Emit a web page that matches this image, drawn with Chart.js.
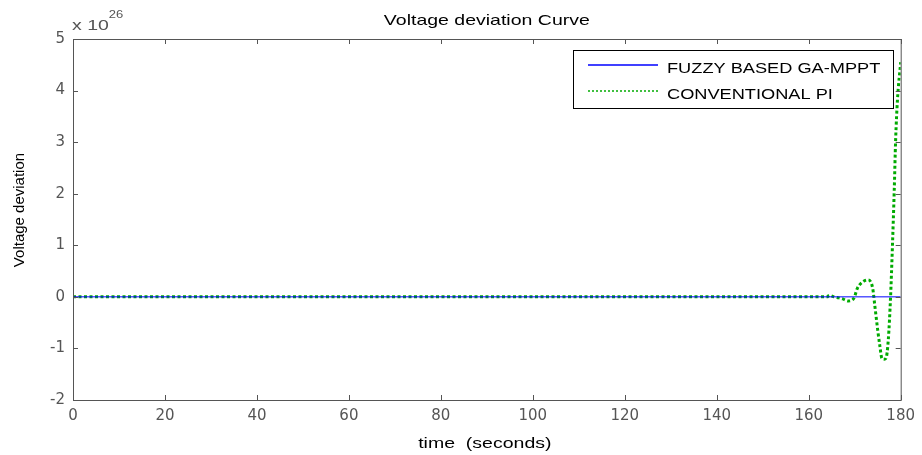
<!DOCTYPE html>
<html>
<head>
<meta charset="utf-8">
<script src="https://cdn.jsdelivr.net/npm/chart.js@4/dist/chart.umd.min.js"></script>
<style>
  html, body { margin: 0; padding: 0; background: #fff; }
  #wrap { width: 922px; height: 455px; }
</style>
</head>
<body>
<div id="wrap"><canvas id="myChart" width="922" height="455"></canvas></div>
<script>
// values are in units of 10^26 (see the exponent label above the y axis)
const fuzzyTime  = [0, 180];
const fuzzyValue = [0, 0];

const piTime  = [0, 164, 164.5, 165.5, 166.5, 167.4, 168.6, 169.8, 170.6, 171.9, 172.9, 173.9, 174.4,
                 175, 175.5, 175.9, 176.4, 176.8, 177.3, 177.8, 178.2, 178.6, 178.9, 179.3, 180];
const piValue = [0, 0, 0.03, 0, -0.02, -0.04, -0.08, -0.03, 0.17, 0.3, 0.33, 0.17, -0.19,
                 -0.64, -0.97, -1.19, -1.21, -1.19, -0.84, 0, 0.97, 2.07, 3.04, 3.82, 4.55];

const seriesNames = ['FUZZY BASED GA-MPPT', 'CONVENTIONAL PI'];
const seriesColors = ['rgb(0,0,255)', 'rgb(0,170,0)'];

const xTicks = [0, 20, 40, 60, 80, 100, 120, 140, 160, 180];
const yTicks = [-2, -1, 0, 1, 2, 3, 4, 5];
const yExponent = '26';

const titleText = 'Voltage deviation Curve';
const xTitle = 'time  (seconds)';
const yTitle = 'Voltage deviation';
const axisGray = '#555555';
const fontName = '"Liberation Sans", Arial, sans-serif';
const tickFont = '"DejaVu Sans", sans-serif';
const stretch = 1.3; // the original figure is stretched sideways

function toPoints(xs, ys) {
  return xs.map((x, i) => ({ x: x, y: ys[i] }));
}

function wideText(ctx, txt, x, y, size, align) {
  ctx.save();
  ctx.font = size + 'px ' + fontName;
  ctx.textAlign = 'left';
  const w = ctx.measureText(txt).width * stretch;
  let x0 = x;
  if (align === 'center') x0 = x - w / 2;
  ctx.translate(x0, y);
  ctx.scale(stretch, 1);
  ctx.fillText(txt, 0, 0);
  ctx.restore();
  return w;
}

// MATLAB style frame: box, inward ticks, titles, exponent and legend inside the plot
const matlabFrame = {
  id: 'matlabFrame',
  afterDraw(chart) {
    const ctx = chart.ctx;
    const a = chart.chartArea;
    const xs = chart.scales.x, ys = chart.scales.y;
    const tl = 5;
    ctx.save();
    ctx.strokeStyle = axisGray;
    ctx.lineWidth = 1;
    ctx.strokeRect(a.left + 0.5, a.top + 0.5, a.right - a.left, a.bottom - a.top);
    ctx.beginPath();
    xTicks.forEach(v => {
      const px = Math.round(xs.getPixelForValue(v)) + 0.5;
      ctx.moveTo(px, a.bottom); ctx.lineTo(px, a.bottom - tl);
      ctx.moveTo(px, a.top); ctx.lineTo(px, a.top + tl);
    });
    yTicks.forEach(v => {
      const py = Math.round(ys.getPixelForValue(v)) + 0.5;
      ctx.moveTo(a.left, py); ctx.lineTo(a.left + tl, py);
      ctx.moveTo(a.right, py); ctx.lineTo(a.right - tl, py);
    });
    ctx.stroke();

    ctx.textBaseline = 'alphabetic';
    // title and x axis title
    ctx.fillStyle = '#000';
    wideText(ctx, titleText, (a.left + a.right) / 2, 25, 15, 'center');
    wideText(ctx, xTitle, (a.left + a.right) / 2 - 2, 448, 15, 'center');

    // y axis title
    ctx.save();
    ctx.translate(24, 210);
    ctx.rotate(-Math.PI / 2);
    ctx.font = '15px ' + fontName;
    ctx.textAlign = 'center';
    ctx.fillText(yTitle, 0, 0);
    ctx.restore();

    // exponent
    ctx.fillStyle = axisGray;
    const w = wideText(ctx, 'x 10', a.left - 1, 30, 15, 'left');
    wideText(ctx, yExponent, a.left - 1 + w, 18, 10, 'left');

    // legend
    const lx = 573, ly = 50, lw = 320, lh = 58;
    ctx.fillStyle = '#fff';
    ctx.fillRect(lx, ly, lw, lh);
    ctx.strokeStyle = '#000';
    ctx.lineWidth = 1;
    ctx.strokeRect(lx + 0.5, ly + 0.5, lw, lh);
    seriesNames.forEach((name, i) => {
      const yy = ly + 15 + i * 26;
      ctx.beginPath();
      ctx.strokeStyle = seriesColors[i];
      ctx.lineWidth = 1.5;
      ctx.setLineDash(i === 1 ? [2, 2] : []);
      ctx.moveTo(lx + 15, yy); ctx.lineTo(lx + 85, yy);
      ctx.stroke();
      ctx.setLineDash([]);
      ctx.fillStyle = '#000';
      wideText(ctx, name, lx + 94, yy + 8, 14, 'left');
    });
    ctx.restore();
  }
};

new Chart(document.getElementById('myChart'), {
  type: 'line',
  data: {
    datasets: [
      {
        label: seriesNames[0],
        data: toPoints(fuzzyTime, fuzzyValue),
        borderColor: seriesColors[0],
        borderWidth: 1,
        pointRadius: 0,
        order: 1
      },
      {
        label: seriesNames[1],
        data: toPoints(piTime, piValue),
        borderColor: seriesColors[1],
        borderWidth: 3,
        borderDash: [3, 2.5],
        pointRadius: 0,
        cubicInterpolationMode: 'monotone',
        order: 2
      }
    ]
  },
  options: {
    responsive: false,
    animation: false,
    layout: { padding: { left: 0, right: 19, top: 39, bottom: 0 } },
    plugins: { legend: { display: false }, title: { display: false }, tooltip: { enabled: false } },
    scales: {
      x: {
        type: 'linear',
        min: 0, max: 180,
        afterBuildTicks: s => { s.ticks = xTicks.map(v => ({ value: v })); },
        afterFit: s => { s.height = 55; },
        grid: { display: false, drawTicks: false },
        border: { display: false },
        ticks: { color: axisGray, padding: 7, maxRotation: 0, font: { family: tickFont, size: 15 } }
      },
      y: {
        type: 'linear',
        min: -2, max: 5,
        afterBuildTicks: s => { s.ticks = yTicks.map(v => ({ value: v })); },
        afterFit: s => { s.width = 73; },
        grid: { display: false, drawTicks: false },
        border: { display: false },
        ticks: { color: axisGray, padding: 8, font: { family: tickFont, size: 15 } }
      }
    }
  },
  plugins: [matlabFrame]
});
</script>
</body>
</html>
